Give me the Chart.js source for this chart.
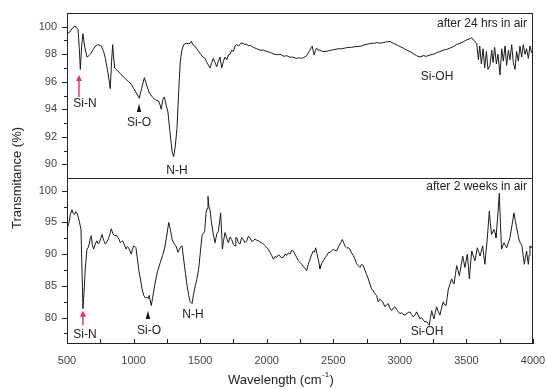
<!DOCTYPE html>
<html><head><meta charset="utf-8">
<script src="https://cdn.jsdelivr.net/npm/chart.js@4/dist/chart.umd.min.js"></script>
<style>html,body{margin:0;padding:0;background:#fff;}canvas{display:block;}</style>
</head><body>
<canvas id="c" width="547" height="390"></canvas>
<script>
// ---- data ----
const wavenumbersTop = [500,520,540,560,575,583,592,600,610,620,632,650,665,675,700,720,733,758,775,788,805,818,825,835,843,850,858,880,900,930,963,985,1001,1020,1043,1060,1081,1100,1118,1140,1163,1188,1200,1208,1220,1231,1245,1258,1275,1290,1301,1312,1326,1340,1351,1363,1376,1395,1414,1425,1434,1445,1460,1475,1489,1505,1520,1537,1550,1563,1574,1587,1599,1612,1624,1637,1649,1662,1675,1687,1700,1712,1725,1737,1750,1762,1775,1790,1805,1822,1837,1850,1862,1875,1887,1900,1925,1950,1975,2000,2020,2037,2060,2085,2100,2112,2130,2150,2170,2187,2205,2225,2245,2262,2275,2287,2300,2312,2325,2335,2342,2350,2357,2366,2375,2387,2400,2418,2437,2462,2487,2512,2537,2562,2587,2612,2637,2662,2687,2712,2737,2762,2787,2810,2830,2851,2875,2900,2926,2950,2975,3001,3025,3050,3076,3100,3125,3151,3175,3200,3226,3250,3275,3301,3325,3350,3377,3400,3425,3452,3475,3502,3520,3540,3555,3565,3577,3590,3600,3612,3625,3637,3650,3662,3677,3690,3700,3712,3725,3737,3752,3765,3777,3790,3802,3815,3827,3840,3852,3865,3877,3890,3902,3915,3927,3940,3952,3965,3977,3990,4000];
const transmittanceTop = [99.5,99.6,99.9,100.05,99.9,99.8,98.5,96.9,98.6,99.5,98.6,97.8,97.9,98.0,98.4,98.65,98.7,98.6,98.2,97.7,96.8,96.0,95.5,97.5,98.7,97.8,97.0,96.8,96.6,96.3,96.0,95.8,95.5,95.2,94.8,95.5,96.3,95.7,95.2,94.9,94.7,94.6,94.3,94.0,94.7,94.9,94.3,93.8,92.2,90.9,90.55,91.2,92.6,95.5,97.5,98.3,98.7,98.8,98.76,98.8,98.95,98.7,98.6,98.4,98.2,98.0,97.8,97.7,97.4,97.2,97.0,97.4,97.7,97.4,97.1,97.5,97.8,97.0,97.5,97.8,97.6,97.95,98.0,98.3,98.2,98.6,98.7,98.6,98.8,98.8,98.7,98.75,98.6,98.65,98.56,98.5,98.4,98.3,98.3,98.2,98.15,98.08,98.0,97.96,98.0,97.95,97.85,97.9,97.8,97.8,97.75,97.7,97.75,97.7,97.75,97.8,97.9,98.1,98.3,98.5,98.6,98.2,97.95,98.3,98.45,98.3,98.3,98.2,98.2,98.25,98.3,98.35,98.4,98.4,98.45,98.5,98.5,98.55,98.56,98.6,98.7,98.75,98.8,98.8,98.85,98.8,98.85,98.9,98.93,98.8,98.7,98.56,98.45,98.3,98.2,98.05,97.9,97.8,97.9,97.85,97.95,98.0,98.1,98.2,98.3,98.35,98.45,98.55,98.7,98.8,98.9,99.05,99.1,99.2,99.0,98.9,98.8,97.6,98.6,97.3,98.4,97.0,98.2,96.9,97.2,98.3,97.4,98.5,97.3,98.0,96.5,98.4,97.5,98.6,97.2,98.3,97.6,98.7,97.4,96.9,98.2,97.5,98.6,97.8,98.7,98.0,98.4,97.7,98.6,98.1,98.3];

const wavenumbersBottom = [500,515,525,537,547,557,565,575,585,592,605,612,620,628,637,650,658,667,675,682,690,700,712,725,735,743,753,763,775,788,798,808,820,833,845,858,870,883,892,900,910,918,930,943,953,963,973,983,992,1001,1010,1018,1030,1040,1051,1063,1076,1088,1101,1110,1118,1125,1133,1145,1163,1180,1201,1218,1234,1250,1264,1275,1290,1301,1310,1318,1334,1345,1355,1364,1375,1389,1400,1414,1425,1439,1450,1464,1475,1489,1500,1514,1525,1534,1544,1552,1559,1566,1574,1585,1600,1612,1625,1637,1648,1654,1660,1667,1675,1687,1700,1712,1725,1737,1750,1762,1768,1775,1787,1799,1812,1824,1837,1850,1862,1875,1887,1900,1912,1925,1937,1950,1962,1975,1990,2000,2012,2025,2037,2050,2062,2075,2087,2100,2112,2125,2137,2150,2162,2175,2187,2200,2212,2225,2237,2250,2263,2275,2287,2300,2312,2325,2337,2350,2358,2368,2377,2387,2395,2400,2412,2425,2437,2450,2462,2475,2487,2500,2512,2525,2540,2555,2568,2580,2590,2600,2612,2625,2637,2650,2663,2675,2687,2700,2712,2725,2737,2750,2763,2775,2788,2800,2813,2825,2838,2850,2863,2875,2888,2900,2913,2925,2938,2950,2963,2975,2988,3001,3013,3025,3039,3050,3063,3076,3088,3101,3113,3126,3138,3151,3163,3176,3189,3200,3210,3221,3230,3239,3247,3256,3266,3276,3288,3301,3313,3326,3337,3347,3356,3364,3377,3389,3398,3407,3417,3427,3437,3447,3460,3472,3480,3489,3498,3507,3515,3522,3530,3540,3552,3564,3573,3582,3592,3602,3612,3622,3630,3639,3645,3652,3662,3672,3680,3689,3698,3707,3715,3722,3735,3747,3755,3764,3773,3782,3792,3802,3815,3827,3842,3857,3867,3877,3887,3897,3907,3917,3926,3935,3943,3952,3958,3965,3971,3977,3986,3995,4000];
const transmittanceBottom = [93.9,95.0,96.2,97.0,96.4,96.25,96.7,96.5,95.8,95.2,93.9,88.0,81.4,84.0,87.6,90.8,91.0,91.6,92.5,92.9,91.5,90.8,91.6,92.1,91.6,91.8,92.5,93.1,92.2,91.6,91.9,92.3,93.0,94.0,93.2,92.9,93.0,92.6,92.3,91.8,92.0,92.1,91.5,90.8,91.2,91.0,90.5,90.0,90.8,91.3,91.2,91.0,89.0,87.4,86.1,84.6,83.5,83.1,83.2,83.0,83.5,82.7,81.9,83.4,85.6,87.3,88.7,89.8,91.0,93.0,95.0,94.0,92.3,91.8,91.5,91.3,90.3,90.8,91.2,91.3,89.4,87.1,85.3,83.5,82.5,82.2,83.6,85.05,86.0,87.7,90.0,92.9,93.3,93.6,96.5,97.2,99.1,97.5,97.0,95.0,93.0,91.8,93.2,93.6,95.5,96.5,94.0,90.8,92.0,93.4,92.5,91.8,92.7,92.3,91.5,91.3,92.6,92.6,91.8,91.6,92.6,92.3,91.8,92.1,92.8,92.6,92.0,92.1,92.4,92.2,92.1,91.9,91.8,91.6,91.3,91.0,90.8,90.3,89.8,89.2,89.6,89.5,89.9,89.7,89.4,89.5,90.0,89.8,90.2,90.0,90.6,90.5,90.0,89.5,89.0,88.7,88.4,88.0,87.8,87.4,88.4,89.2,89.9,90.5,90.3,91.0,90.1,89.2,88.3,87.7,88.5,88.95,89.4,89.7,90.2,90.3,90.5,90.8,90.6,90.5,91.2,91.8,92.3,91.7,91.2,91.0,91.0,90.8,90.2,89.8,89.2,88.5,88.2,87.9,88.4,88.2,87.5,86.8,86.1,85.3,84.5,84.2,83.75,83.5,82.5,82.9,82.7,82.3,81.7,82.0,82.2,81.5,81.1,81.5,81.7,81.3,80.9,80.6,80.8,80.5,80.4,80.6,80.8,80.9,80.5,80.1,80.4,80.9,80.4,79.8,80.0,79.6,79.3,79.4,79.1,78.8,80.0,81.1,80.4,79.8,80.8,81.7,81.0,80.4,81.5,82.5,82.0,81.9,83.2,84.5,85.3,86.1,85.6,85.3,86.8,88.2,87.4,86.6,88.2,89.7,88.8,87.9,89.0,90.0,88.0,86.1,88.3,90.5,89.7,88.95,90.0,91.0,90.4,89.7,90.5,91.3,89.8,88.4,90.0,91.3,94.0,96.8,94.8,93.1,93.5,93.9,93.3,92.6,96.0,99.6,95.0,90.8,91.3,91.8,91.4,91.0,91.8,92.6,94.5,96.5,95.3,94.2,93.1,92.1,91.7,91.3,89.8,88.4,89.5,90.5,89.4,88.4,89.8,91.3,91.0,91.3,90.8];

const xTicks = [500,750,1000,1250,1500,1750,2000,2250,2500,2750,3000,3250,3500,3750,4000];
const xTickLabels = ["500","","1000","","1500","","2000","","2500","","3000","","3500","","4000"];
const topYTicks = [90,92,94,96,98,100];
const topYMinorTicks = [89,91,93,95,97,99,101];
const bottomYTicks = [80,85,90,95,100];
const bottomYMinorTicks = [77.5,82.5,87.5,92.5,97.5];
const panelTitles = ["after 24 hrs in air","after 2 weeks in air"];
const xTitle = "Wavelength (cm";
const xTitleSup = "-1";
const yTitle = "Transmitance (%)";
// peak labels: [text, x value, y value]
const labelsTop = [["Si-N",635,94.4],["Si-O",1041,93.0],["N-H",1326,89.56],["Si-OH",3279,96.4]];
const labelsBottom = [["Si-N",635,77.3],["Si-O",1116,78.0],["N-H",1446,80.5],["Si-OH",3204,77.8]];
// arrows: [x value, tail y, tip y, colour kind]
const arrowsTop = [[590,94.9,96.5,"red"],[1041,93.8,94.4,"black"]];
const arrowsBottom = [[620,78.75,81.1,"red"],[1108,79.8,81.1,"black"]];

const FONT = "'Liberation Sans', Arial, sans-serif";
const toPts = (xs, ys) => xs.map((x, i) => ({x, y: ys[i]}));

const framePlugin = {
  id: 'frame',
  afterDraw(chart) {
    const ctx = chart.ctx, a = chart.chartArea;
    const xs = chart.scales.x, yt = chart.scales.yTop, yb = chart.scales.yBot;
    ctx.save();
    ctx.strokeStyle = '#222'; ctx.lineWidth = 1;
    ctx.strokeRect(a.left + 0.5, a.top + 0.5, a.right - a.left - 1, a.bottom - a.top);
    const div = Math.round(yt.bottom) + 0.5;
    ctx.beginPath(); ctx.moveTo(a.left, div); ctx.lineTo(a.right, div); ctx.stroke();
    // x ticks (inward)
    ctx.beginPath();
    xTicks.forEach(v => { const p = Math.round(xs.getPixelForValue(v)) + 0.5; ctx.moveTo(p, a.bottom); ctx.lineTo(p, a.bottom - 4); });
    // y ticks (outward)
    const yt2 = (sc, maj, min) => {
      maj.forEach(v => { const p = Math.round(sc.getPixelForValue(v)) + 0.5; ctx.moveTo(a.left, p); ctx.lineTo(a.left - 5, p); });
      min.forEach(v => { const p = Math.round(sc.getPixelForValue(v)) + 0.5; if (p > sc.top + 1 && p < sc.bottom - 1) { ctx.moveTo(a.left, p); ctx.lineTo(a.left - 3, p); } });
    };
    yt2(yt, topYTicks, topYMinorTicks); yt2(yb, bottomYTicks, bottomYMinorTicks);
    ctx.stroke();

    // panel titles
    ctx.fillStyle = '#222'; ctx.font = '12px ' + FONT; ctx.textBaseline = 'middle';
    ctx.textAlign = 'right';
    ctx.fillText(panelTitles[0], a.right - 6, yt.top + 11);
    ctx.fillText(panelTitles[1], a.right - 6, yb.top + 9);
    // peak labels
    ctx.textAlign = 'center';
    labelsTop.forEach(([t, x, y]) => ctx.fillText(t, xs.getPixelForValue(x), yt.getPixelForValue(y)));
    labelsBottom.forEach(([t, x, y]) => ctx.fillText(t, xs.getPixelForValue(x), yb.getPixelForValue(y)));
    // arrows
    const arrow = (sc, [x, y0, y1, kind]) => {
      const px = xs.getPixelForValue(x), p0 = sc.getPixelForValue(y0), p1 = sc.getPixelForValue(y1);
      const col = kind === 'red' ? '#ee2d62' : '#111';
      ctx.strokeStyle = col; ctx.fillStyle = col; ctx.lineWidth = 1.4;
      if (kind === 'red') {
        ctx.beginPath(); ctx.moveTo(px, p0); ctx.lineTo(px, p1 + 4); ctx.stroke();
        ctx.beginPath(); ctx.moveTo(px, p1); ctx.lineTo(px - 3, p1 + 6); ctx.lineTo(px + 3, p1 + 6); ctx.closePath(); ctx.fill();
      } else {
        ctx.beginPath(); ctx.moveTo(px, p1); ctx.lineTo(px - 2.2, p0); ctx.lineTo(px + 2.2, p0); ctx.closePath(); ctx.fill();
      }
    };
    arrowsTop.forEach(ar => arrow(yt, ar));
    arrowsBottom.forEach(ar => arrow(yb, ar));

    // axis titles
    ctx.fillStyle = '#222';
    ctx.font = '13px ' + FONT; ctx.textAlign = 'left'; ctx.textBaseline = 'middle';
    const w1 = ctx.measureText(xTitle).width;
    ctx.font = '8px ' + FONT; const w2 = ctx.measureText(xTitleSup).width;
    ctx.font = '13px ' + FONT; const w3 = ctx.measureText(')').width;
    let sx = 281 - (w1 + w2 + w3 + 1) / 2; const sy = 380;
    ctx.fillText(xTitle, sx, sy);
    ctx.font = '8px ' + FONT; ctx.fillText(xTitleSup, sx + w1 + 0.5, sy - 5);
    ctx.font = '13px ' + FONT; ctx.fillText(')', sx + w1 + w2 + 1, sy);
    ctx.translate(17, (a.top + a.bottom) / 2);
    ctx.rotate(-Math.PI / 2);
    ctx.textAlign = 'center';
    ctx.fillText(yTitle, 0, 0);
    ctx.restore();
  }
};

const yAxis = (min, max, ticks) => ({
  type: 'linear', position: 'left', stack: 'spectra', stackWeight: 1, min, max,
  afterBuildTicks: s => { s.ticks = ticks.map(v => ({value: v})); },
  afterFit: s => { s.width = 67; s.paddingTop = 0; s.paddingBottom = 0; },
  ticks: {font: {family: FONT, size: 11}, color: '#444', padding: 10},
  grid: {drawOnChartArea: false, drawTicks: false},
  border: {color: '#222', width: 1}
});

new Chart(document.getElementById('c'), {
  type: 'line',
  data: {
    datasets: [
      {label: panelTitles[0], data: toPts(wavenumbersTop, transmittanceTop), yAxisID: 'yTop', borderColor: '#1a1a1a', borderWidth: 1, pointRadius: 0, tension: 0, fill: false},
      {label: panelTitles[1], data: toPts(wavenumbersBottom, transmittanceBottom), yAxisID: 'yBot', borderColor: '#1a1a1a', borderWidth: 1, pointRadius: 0, tension: 0, fill: false}
    ]
  },
  options: {
    responsive: false, animation: false, devicePixelRatio: 1,
    layout: {padding: {top: 13, right: 14, left: 0, bottom: 0}},
    plugins: {legend: {display: false}, tooltip: {enabled: false}},
    scales: {
      x: {
        type: 'linear', min: 500, max: 4000,
        afterBuildTicks: s => { s.ticks = xTicks.map(v => ({value: v})); },
        afterFit: s => { s.height = 47; s.paddingLeft = 0; s.paddingRight = 0; },
        ticks: {autoSkip: false, maxRotation: 0, font: {family: FONT, size: 11}, color: '#444', padding: 11,
          callback: (v) => xTickLabels[xTicks.indexOf(v)] ?? ''},
        grid: {drawOnChartArea: false, drawTicks: false},
        border: {color: '#222', width: 1}
      },
      yBot: yAxis(76, 102, bottomYTicks),
      yTop: yAxis(89, 101, topYTicks)
    }
  },
  plugins: [framePlugin]
});
</script>
</body></html>
